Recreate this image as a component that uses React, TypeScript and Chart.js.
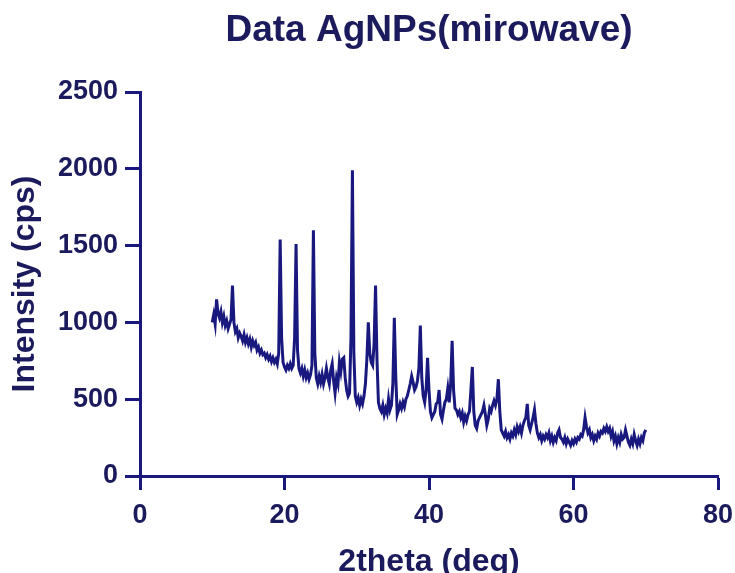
import React, { useEffect, useRef } from "react";
import { Chart, registerables } from "chart.js";

Chart.register(...registerables);

const chartTitle = "Data AgNPs(mirowave)";
const xTitle = "2theta (deg)";
const yTitle = "Intensity (cps)";
const xTicks = [0, 20, 40, 60, 80];
const yTicks = [0, 500, 1000, 1500, 2000, 2500];

const twoTheta = [
  10.0, 10.2, 10.4, 10.6, 10.8, 11.0, 11.2, 11.4, 11.6, 11.8,
  12.0, 12.2, 12.4, 12.6, 12.8, 13.0, 13.2, 13.4, 13.6, 13.8,
  14.0, 14.2, 14.4, 14.6, 14.8, 15.0, 15.2, 15.4, 15.6, 15.8,
  16.0, 16.2, 16.4, 16.6, 16.8, 17.0, 17.2, 17.4, 17.6, 17.8,
  18.0, 18.2, 18.4, 18.6, 18.8, 19.0, 19.2, 19.4, 19.6, 19.8,
  20.0, 20.2, 20.4, 20.6, 20.8, 21.0, 21.2, 21.4, 21.6, 21.8,
  22.0, 22.2, 22.4, 22.6, 22.8, 23.0, 23.2, 23.4, 23.6, 23.8,
  24.0, 24.2, 24.4, 24.6, 24.8, 25.0, 25.2, 25.4, 25.6, 25.8,
  26.0, 26.2, 26.4, 26.6, 26.8, 27.0, 27.2, 27.4, 27.6, 27.8,
  28.0, 28.2, 28.4, 28.6, 28.8, 29.0, 29.2, 29.4, 29.6, 29.8,
  30.0, 30.2, 30.4, 30.6, 30.8, 31.0, 31.2, 31.4, 31.6, 31.8,
  32.0, 32.2, 32.4, 32.6, 32.8, 33.0, 33.2, 33.4, 33.6, 33.8,
  34.0, 34.2, 34.4, 34.6, 34.8, 35.0, 35.2, 35.4, 35.6, 35.8,
  36.0, 36.2, 36.4, 36.6, 36.8, 37.0, 37.2, 37.4, 37.6, 37.8,
  38.0, 38.2, 38.4, 38.6, 38.8, 39.0, 39.2, 39.4, 39.6, 39.8,
  40.0, 40.2, 40.4, 40.6, 40.8, 41.0, 41.2, 41.4, 41.6, 41.8,
  42.0, 42.2, 42.4, 42.6, 42.8, 43.0, 43.2, 43.4, 43.6, 43.8,
  44.0, 44.2, 44.4, 44.6, 44.8, 45.0, 45.2, 45.4, 45.6, 45.8,
  46.0, 46.2, 46.4, 46.6, 46.8, 47.0, 47.2, 47.4, 47.6, 47.8,
  48.0, 48.2, 48.4, 48.6, 48.8, 49.0, 49.2, 49.4, 49.6, 49.8,
  50.0, 50.2, 50.4, 50.6, 50.8, 51.0, 51.2, 51.4, 51.6, 51.8,
  52.0, 52.2, 52.4, 52.6, 52.8, 53.0, 53.2, 53.4, 53.6, 53.8,
  54.0, 54.2, 54.4, 54.6, 54.8, 55.0, 55.2, 55.4, 55.6, 55.8,
  56.0, 56.2, 56.4, 56.6, 56.8, 57.0, 57.2, 57.4, 57.6, 57.8,
  58.0, 58.2, 58.4, 58.6, 58.8, 59.0, 59.2, 59.4, 59.6, 59.8,
  60.0, 60.2, 60.4, 60.6, 60.8, 61.0, 61.2, 61.4, 61.6, 61.8,
  62.0, 62.2, 62.4, 62.6, 62.8, 63.0, 63.2, 63.4, 63.6, 63.8,
  64.0, 64.2, 64.4, 64.6, 64.8, 65.0, 65.2, 65.4, 65.6, 65.8,
  66.0, 66.2, 66.4, 66.6, 66.8, 67.0, 67.2, 67.4, 67.6, 67.8,
  68.0, 68.2, 68.4, 68.6, 68.8, 69.0, 69.2, 69.4, 69.6, 69.8,
  70.0,
];

const intensity = [
  1000, 1050, 990, 1150, 1060, 1030, 1070, 1000, 1040, 980,
  1010, 960, 990, 1020, 1240, 1000, 940, 960, 900, 930,
  910, 880, 920, 870, 900, 860, 890, 840, 880, 850,
  870, 820, 840, 800, 820, 790, 800, 770, 790, 760,
  780, 745, 770, 740, 760, 730, 800, 1540, 900, 740,
  710, 690, 720, 700, 730, 700, 720, 900, 1510, 820,
  700, 670, 700, 650, 690, 640, 670, 630, 660, 720,
  1600, 800, 640, 600, 650, 610, 660, 600, 640, 700,
  640, 600, 690, 730, 620, 540, 640, 600, 740, 680,
  760, 770, 640, 560, 520, 540, 900, 1990, 800, 520,
  480, 510, 460, 500, 470, 520, 600, 760, 1000, 800,
  740, 720, 860, 1240, 760, 480, 440, 420, 460, 400,
  440, 410, 500, 430, 460, 600, 1030, 650, 400, 430,
  470, 440, 480, 450, 500, 520, 560, 600, 650, 610,
  560, 580, 620, 700, 980, 640, 520, 480, 560, 770,
  560, 420, 380, 400, 420, 470, 480, 560, 400, 370,
  430, 480, 500, 570, 480, 600, 880, 560, 440, 430,
  400, 420, 380, 410, 350, 390, 360, 400, 420, 560,
  710, 420, 330, 310, 360, 380, 400, 420, 460, 400,
  330, 370, 440, 420, 460, 490, 460, 500, 630, 420,
  300, 280, 260, 290, 250, 270, 240, 280, 260, 300,
  270, 320, 290, 320, 280, 330, 360, 380, 470, 330,
  300, 340, 380, 430, 340, 280, 250, 270, 230, 260,
  240, 270, 250, 280, 230, 260, 220, 250, 230, 280,
  300, 250, 240, 220, 250, 210, 240, 220, 200, 230,
  210, 240, 220, 250, 240, 270, 260, 300, 380, 320,
  280, 300, 250, 270, 230, 260, 240, 280, 260, 290,
  280, 310, 290, 320, 290, 310, 260, 290, 230, 260,
  210, 250, 220, 270, 240, 250, 300, 260, 220, 200,
  240, 210, 270, 230, 200, 240, 210, 250, 230, 280,
  300,
];

const NAVY = "#18187e";
const TEXT = "#1a1a5c";
const FONT = "'Liberation Sans', Arial, Helvetica, sans-serif";

export default function App() {
  const ref = useRef<HTMLCanvasElement | null>(null);

  useEffect(() => {
    if (!ref.current) return;
    const points = twoTheta.map((x, i) => ({ x, y: intensity[i] }));
    const chart = new Chart(ref.current, {
      type: "line",
      data: {
        datasets: [
          {
            data: points,
            borderColor: NAVY,
            borderWidth: 3,
            pointRadius: 0,
            tension: 0,
            fill: false,
          },
        ],
      },
      options: {
        animation: false,
        responsive: false,
        events: [],
        layout: { padding: { left: 0, right: 17, top: 0, bottom: 0 } },
        plugins: {
          legend: { display: false },
          tooltip: { enabled: false },
          title: {
            display: true,
            text: chartTitle,
            color: TEXT,
            fullSize: false,
            font: { family: FONT, size: 37, weight: "bold", lineHeight: 1 },
            padding: { top: 12, bottom: 43 },
          },
        },
        scales: {
          x: {
            type: "linear",
            min: 0,
            max: 80,
            afterBuildTicks: (scale: any) => {
              scale.ticks = xTicks.map((v) => ({ value: v }));
            },
            afterFit: (scale: any) => {
              scale.height = 97;
              scale.paddingRight = 0;
              scale.paddingLeft = 0;
            },
            grid: {
              drawOnChartArea: false,
              drawTicks: true,
              tickLength: 14,
              tickWidth: 3,
              tickColor: NAVY,
            },
            border: { display: true, color: NAVY, width: 3 },
            ticks: {
              color: TEXT,
              padding: 9,
              maxRotation: 0,
              callback: (v: any) => String(v),
              font: { family: FONT, size: 27, weight: "bold" },
            },
            title: {
              display: true,
              text: xTitle,
              color: TEXT,
              font: { family: FONT, size: 32, weight: "bold", lineHeight: 0.6 },
              padding: { top: 0, bottom: 1 },
            },
          },
          y: {
            type: "linear",
            min: 0,
            max: 2500,
            afterBuildTicks: (scale: any) => {
              scale.ticks = yTicks.map((v) => ({ value: v }));
            },
            afterFit: (scale: any) => {
              scale.width = 140;
            },
            grid: {
              drawOnChartArea: false,
              drawTicks: true,
              tickLength: 15,
              tickWidth: 3,
              tickColor: NAVY,
            },
            border: { display: true, color: NAVY, width: 3 },
            ticks: {
              color: TEXT,
              padding: 7,
              callback: (v: any) => String(v),
              font: { family: FONT, size: 27, weight: "bold" },
            },
            title: {
              display: true,
              text: yTitle,
              color: TEXT,
              font: { family: FONT, size: 32, weight: "bold", lineHeight: 1 },
              padding: { top: 9, bottom: 0 },
            },
          },
        },
      },
    });
    return () => chart.destroy();
  }, []);

  return (
    <div
      style={{
        position: "fixed",
        left: 0,
        top: 0,
        width: 735,
        height: 573,
        background: "#ffffff",
      }}
    >
      <canvas ref={ref} width={735} height={573} style={{ display: "block" }} />
    </div>
  );
}
